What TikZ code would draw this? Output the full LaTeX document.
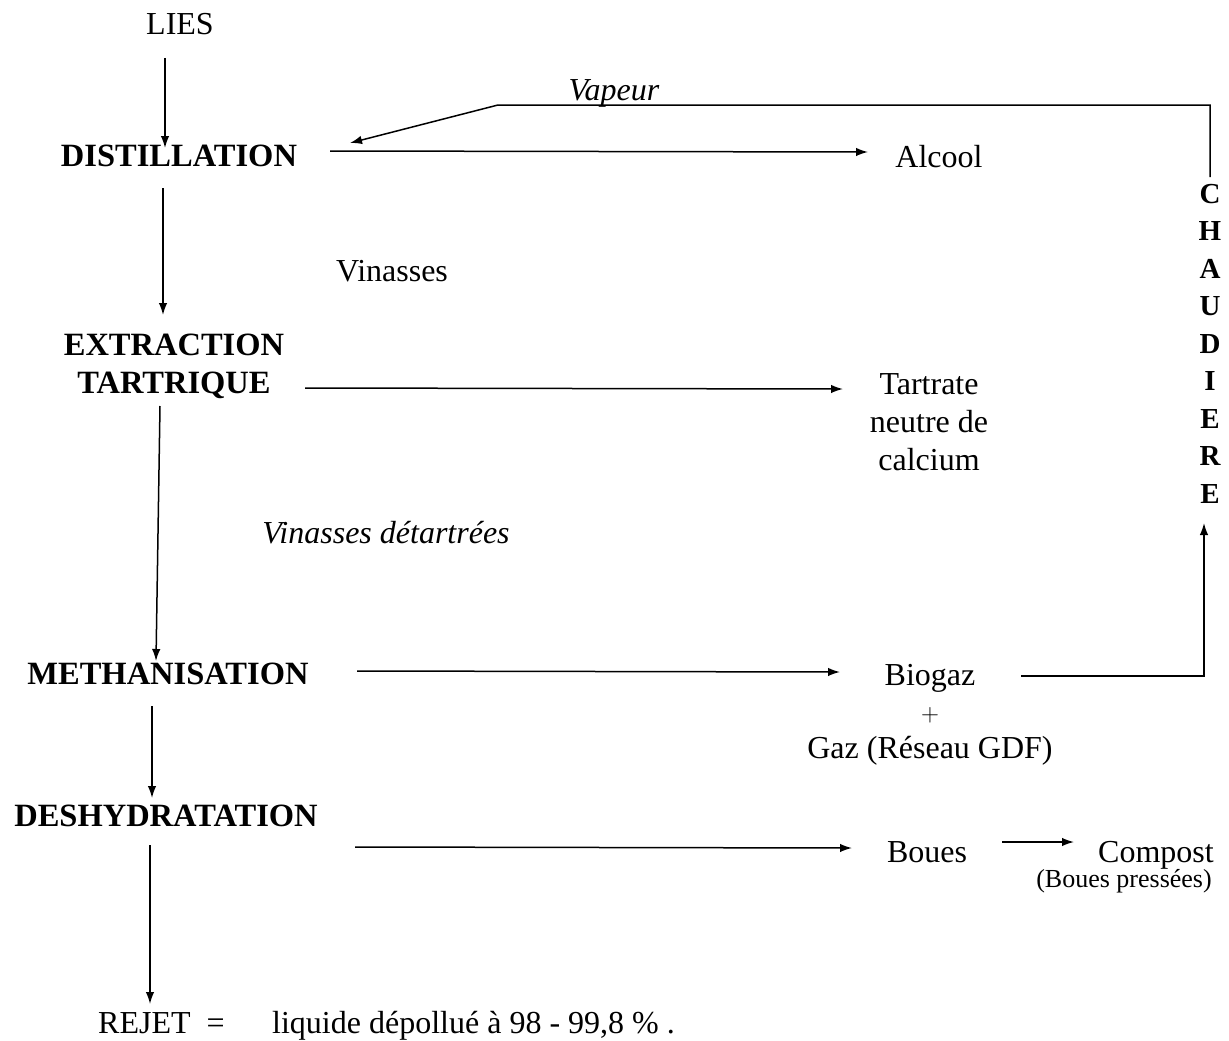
\documentclass[tikz,border=0pt]{standalone}
\usepackage{fontspec}
\setmainfont{Liberation Serif}
\usetikzlibrary{arrows.meta}
\begin{document}
\begin{tikzpicture}[x=1pt,y=-1pt,
  txt/.style={inner sep=0pt,anchor=base,align=center,font=\fontsize{32}{38}\selectfont},
  stage/.style={txt,font=\fontsize{32.5}{38}\selectfont\bfseries},
  itl/.style={txt,font=\fontsize{32}{38}\selectfont\itshape},
  small/.style={txt,font=\fontsize{26}{30}\selectfont},
  flow/.style={line width=1.5pt,-{Latex[length=12pt,width=8.5pt]}},
  plain/.style={line width=1.5pt}]
\useasboundingbox (0,0) rectangle (1229,1041);
% nodes (multi-line nodes are placed at the baseline of their last line)
\node[txt] (lies) at (180,35) {LIES};
\node[stage] (dist) at (179,166) {DISTILLATION};
\node[txt] (alcool) at (939,167) {Alcool};
\node[itl] (vapeur) at (614,100) {Vapeur};
\node[txt] (vin) at (392,281) {Vinasses};
\node[stage] (extr) at (174,393) {EXTRACTION\\TARTRIQUE};
\node[txt] (tart) at (929,470) {Tartrate\\neutre de\\calcium};
\node[itl] (vind) at (386,543) {Vinasses détartrées};
\node[txt] (bio) at (930,758) {Biogaz\\[-1.5pt]$+$\\[-1.5pt]Gaz (Réseau GDF)};
\node[stage] (meth) at (168,684) {METHANISATION};
\node[stage] (desh) at (166,826) {DESHYDRATATION};
\node[txt] (boues) at (927,862) {Boues};
\node[txt,anchor=base west] (compost) at (1098,862) {Compost};
\node[small] (pressees) at (1124,887) {(Boues pressées)};
\node[txt,anchor=base west] (rejet) at (98,1033) {REJET\ \ =};
\node[txt,anchor=base west] (liq) at (272,1033) {liquide dépollué à 98 - 99,8 \% .};
\node[txt,font=\fontsize{29}{37.5}\selectfont\bfseries] (chaud) at (1210,503) {C\\H\\A\\U\\D\\I\\E\\R\\E};
% connector end points
\coordinate (liesS) at (165,58);
\coordinate (distN) at (165,148);
\coordinate (distE) at (330,151);
\coordinate (alcW) at (868,152);
\coordinate (chaudN) at (1210,177);
\coordinate (vapR) at (1210,105);
\coordinate (vapL) at (498,105);
\coordinate (distNE) at (350,143);
\coordinate (distS) at (163,188);
\coordinate (extrN) at (163,315);
\coordinate (extrE) at (305,388);
\coordinate (tartW) at (843,389);
\coordinate (extrS) at (160,406);
\coordinate (methN) at (156,661);
\coordinate (methE) at (357,671);
\coordinate (bioW) at (840,672);
\coordinate (bioE) at (1021,676);
\coordinate (chaudC) at (1204,676);
\coordinate (chaudS) at (1204,523);
\coordinate (methS) at (152,706);
\coordinate (deshN) at (152,798);
\coordinate (deshE) at (355,847);
\coordinate (bouesW) at (852,848);
\coordinate (bouesE) at (1002,842);
\coordinate (compW) at (1074,842);
\coordinate (deshS) at (150,845);
\coordinate (rejN) at (150,1004);
% connectors
\draw[flow] (liesS) -- (distN);
\draw[flow] (distE) -- (alcW);
\draw[flow] (chaudN) -- (vapR) -- (vapL) -- (distNE);
\draw[flow] (distS) -- (extrN);
\draw[flow] (extrE) -- (tartW);
\draw[flow] (extrS) -- (methN);
\draw[flow] (methE) -- (bioW);
\draw[flow] (bioE) -- (chaudC) -- (chaudS);
\draw[flow] (methS) -- (deshN);
\draw[flow] (deshE) -- (bouesW);
\draw[flow] (bouesE) -- (compW);
\draw[flow] (deshS) -- (rejN);
\end{tikzpicture}
\end{document}
